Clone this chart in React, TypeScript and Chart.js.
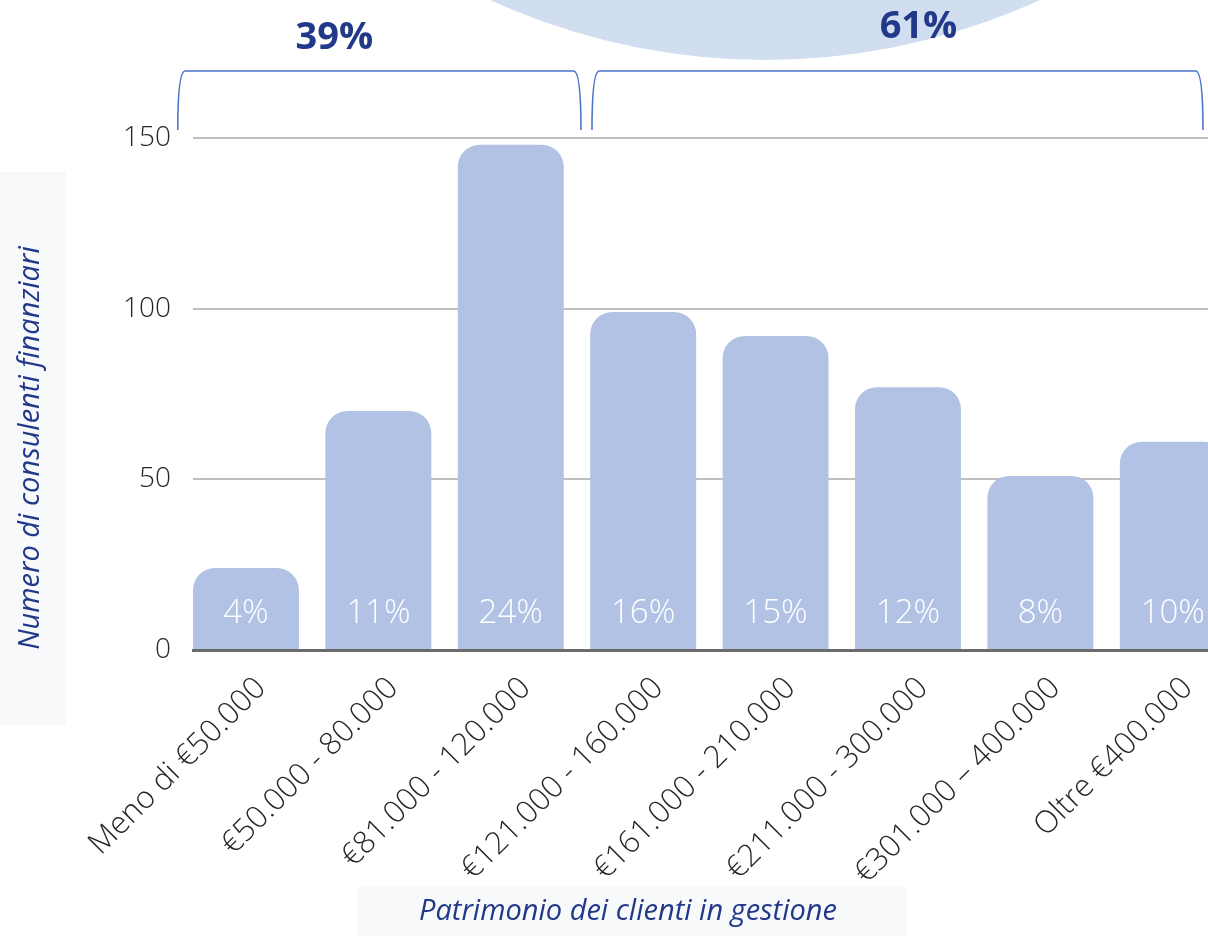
import React, { useEffect, useRef } from "react";
import { Chart, registerables } from "chart.js";

Chart.register(...registerables);

const categories = [
  "Meno di €50.000",
  "€50.000 - 80.000",
  "€81.000 - 120.000",
  "€121.000 - 160.000",
  "€161.000 - 210.000",
  "€211.000 - 300.000",
  "€301.000 – 400.000",
  "Oltre €400.000",
];
const counts = [24, 70, 148, 99, 92, 77, 51, 61];
const shareLabels = ["4%", "11%", "24%", "16%", "15%", "12%", "8%", "10%"];
const groupLabels = ["39%", "61%"];
const groupRanges = [
  [0, 2],
  [3, 7],
];
const yTicks = [0, 50, 100, 150];
const yTitle = "Numero di consulenti finanziari";
const xTitle = "Patrimonio dei clienti in gestione";

const NAVY = "#22398a";
const FONT = "'Open Sans', 'Noto Sans', sans-serif";

const decorPlugin = {
  id: "decor",
  beforeDraw(chart: any) {
    const ctx = chart.ctx;
    ctx.save();
    ctx.fillStyle = "#f8f9fa";
    ctx.fillRect(0, 172, 66, 553);
    ctx.fillRect(357, 887, 550, 49);
    ctx.fillStyle = "#d0deef";
    ctx.beginPath();
    ctx.arc(765, -600, 660, 0, Math.PI * 2);
    ctx.fill();
    ctx.restore();
  },
  afterDraw(chart: any) {
    const ctx = chart.ctx;
    const xs = chart.scales.x;
    const area = chart.chartArea;
    ctx.save();
    ctx.strokeStyle = "#4a74c9";
    ctx.lineWidth = 1.6;
    const topY = 71;
    const botY = 130;
    const centers: number[] = [];
    groupRanges.forEach((r, gi) => {
      const a = xs.getPixelForValue(r[0] - 0.5) + (gi === 0 ? -2 : 15);
      let b = xs.getPixelForValue(r[1] + 0.5) + (gi === 0 ? 4 : 0);
      b = Math.min(b, area.right - 5);
      ctx.beginPath();
      ctx.moveTo(a, botY);
      ctx.bezierCurveTo(a, 95, a + 2, topY + 1, a + 7, topY);
      ctx.lineTo(b - 7, topY);
      ctx.bezierCurveTo(b - 2, topY + 1, b, 95, b, botY);
      ctx.stroke();
      centers.push((a + b) / 2);
    });
    ctx.fillStyle = NAVY;
    ctx.font = `bold 38px ${FONT}`;
    ctx.textAlign = "center";
    ctx.textBaseline = "middle";
    ctx.fillText(groupLabels[0], centers[0] - 45, 38);
    ctx.fillText(groupLabels[1], centers[1] + 21, 27);

    ctx.font = `italic 29px ${FONT}`;
    ctx.fillText(xTitle, 628, 912);
    ctx.translate(31, 448);
    ctx.rotate(-Math.PI / 2);
    ctx.fillText(yTitle, 0, 0);
    ctx.restore();
  },
  afterDatasetsDraw(chart: any) {
    const ctx = chart.ctx;
    const meta = chart.getDatasetMeta(0);
    const ys = chart.scales.y;
    ctx.save();
    ctx.beginPath();
    ctx.rect(chart.chartArea.left, 0, chart.chartArea.right - chart.chartArea.left, chart.height);
    ctx.clip();
    ctx.fillStyle = "#ffffff";
    ctx.font = `300 33px ${FONT}`;
    ctx.textAlign = "center";
    ctx.textBaseline = "middle";
    meta.data.forEach((el: any, i: number) => {
      ctx.fillText(shareLabels[i], el.x, ys.bottom - 36);
    });
    ctx.restore();
  },
};

export default function App() {
  const ref = useRef<HTMLCanvasElement>(null);
  useEffect(() => {
    if (!ref.current) return;
    const chart = new Chart(ref.current, {
      type: "bar",
      data: {
        datasets: [
          {
            data: counts.map((v, i) => ({ x: i, y: v })),
            backgroundColor: "#b1c2e5",
            borderRadius: 22,
            borderSkipped: "start",
            categoryPercentage: 0.8,
            barPercentage: 1,
          },
        ],
      },
      options: {
        animation: false,
        responsive: false,
        devicePixelRatio: 1,
        layout: { padding: { top: 138, left: 0, right: 0, bottom: 0 } },
        plugins: { legend: { display: false }, tooltip: { enabled: false } },
        scales: {
          x: {
            type: "linear",
            offset: false,
            min: -0.4,
            max: 7.266,
            afterBuildTicks: (s: any) => {
              s.ticks = categories.map((_, i) => ({ value: i }));
            },
            afterFit: (s: any) => {
              s.height = 286;
              s.paddingLeft = 0;
              s.paddingRight = 0;
            },
            grid: { display: false, drawTicks: false, offset: false },
            border: { display: true, color: "#6b6b6b", width: 3 },
            ticks: {
              autoSkip: false,
              minRotation: 45,
              maxRotation: 45,
              padding: 20,
              labelOffset: 15,
              color: "#262626",
              font: { family: FONT, size: 31, weight: "300" },
              callback: (v: any) => categories[v as number] ?? "",
            },
          },
          y: {
            min: 0,
            max: 150,
            afterBuildTicks: (s: any) => {
              s.ticks = yTicks.map((v) => ({ value: v }));
            },
            afterFit: (s: any) => {
              s.width = 193;
            },
            grid: {
              drawTicks: false,
              color: "#bfbfbf",
              lineWidth: 2,
            },
            border: { display: false },
            ticks: {
              padding: 22,
              color: "#262626",
              font: { family: FONT, size: 28, weight: "300" },
            },
          },
        },
      },
      plugins: [decorPlugin],
    });
    return () => chart.destroy();
  }, []);
  return (
    <div style={{ position: "fixed", left: 0, top: 0, width: 1208, height: 936, overflow: "hidden", background: "#fff" }}>
      <canvas ref={ref} width={1208} height={936} style={{ display: "block" }} />
    </div>
  );
}
